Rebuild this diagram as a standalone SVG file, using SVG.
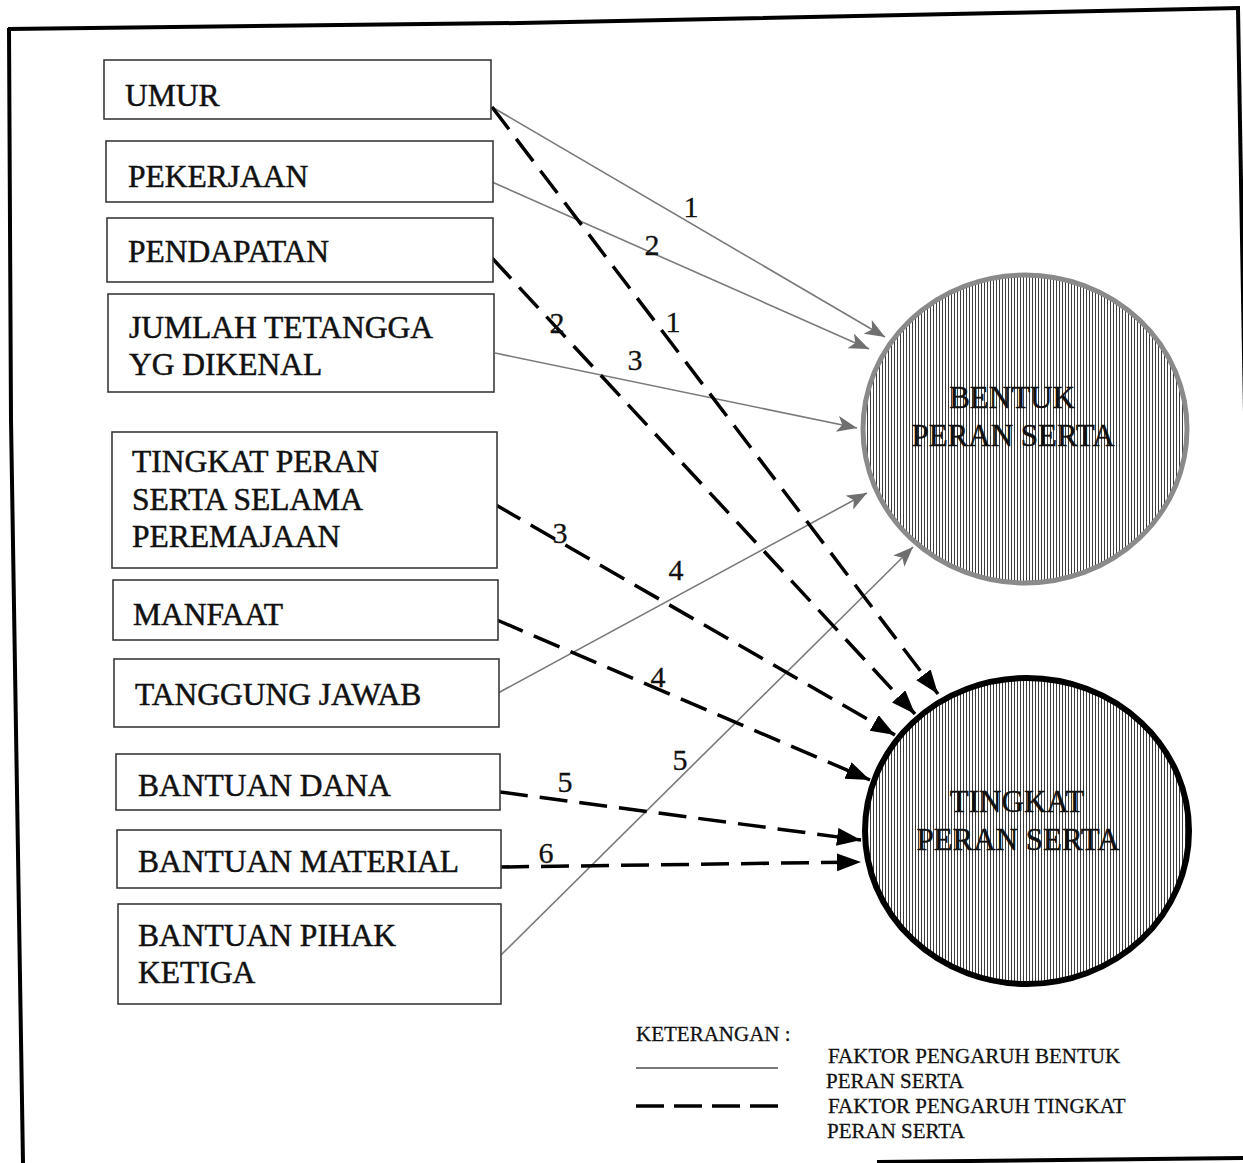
<svg xmlns="http://www.w3.org/2000/svg" width="1243" height="1163" viewBox="0 0 1243 1163">
<style>
.box{fill:#fff;stroke:#3a3a3a;stroke-width:1.6}
.bt{font-family:"Liberation Serif","Times New Roman",serif;font-size:31.5px;fill:#111;stroke:#111;stroke-width:0.5}
.ct{font-family:"Liberation Serif","Times New Roman",serif;font-size:31px;fill:#111;stroke:#111;stroke-width:0.5;text-anchor:middle}
.lbl{font-family:"Liberation Serif","Times New Roman",serif;font-size:30px;fill:#111;stroke:#111;stroke-width:0.3;text-anchor:middle}
.lg{font-family:"Liberation Serif","Times New Roman",serif;font-size:21px;fill:#111;stroke:#111;stroke-width:0.3}
.solid{fill:none;stroke:#7a7a7a;stroke-width:1.6}
.dash{fill:none;stroke:#000;stroke-width:3.5;stroke-dasharray:28 12}
.frame{fill:none;stroke:#000;stroke-width:4}
</style>
<defs>
<pattern id="hatch" width="3" height="3" patternUnits="userSpaceOnUse">
<rect width="3" height="3" fill="#fff"/>
<rect width="1" height="3" fill="#3c3c3c"/>
</pattern>
<marker id="ag" markerUnits="userSpaceOnUse" markerWidth="22" markerHeight="18" refX="20" refY="8" orient="auto">
<path d="M0,0 L20,8 L0,16 L5,8 z" fill="#6f6f6f"/>
</marker>
<marker id="ab" markerUnits="userSpaceOnUse" markerWidth="26" markerHeight="20" refX="24" refY="9" orient="auto">
<path d="M0,0 L24,9 L0,18 z" fill="#000"/>
</marker>
</defs>
<rect width="1243" height="1163" fill="#fff"/>
<g id="frame">
<polyline class="frame" points="8,29 520,23 1000,13 1240,8"/>
<polyline class="frame" points="9,28 11,420 23,1163"/>
<polyline class="frame" points="1238,8 1250,700"/>
<polyline class="frame" points="877,1162 1243,1158" stroke-width="3"/>
</g>
<g id="connectors">
<line class="solid" x1="492" y1="107" x2="885" y2="337" marker-end="url(#ag)"/>
<line class="solid" x1="492" y1="182" x2="869" y2="349" marker-end="url(#ag)"/>
<line class="solid" x1="495" y1="353" x2="857" y2="428" marker-end="url(#ag)"/>
<line class="solid" x1="498" y1="693" x2="867" y2="493" marker-end="url(#ag)"/>
<line class="solid" x1="501" y1="955" x2="913" y2="547" marker-end="url(#ag)"/>
<line class="dash" x1="492" y1="107" x2="938" y2="694" marker-end="url(#ab)"/>
<line class="dash" x1="492" y1="258" x2="915" y2="714" marker-end="url(#ab)"/>
<line class="dash" x1="496" y1="505" x2="895" y2="735" marker-end="url(#ab)"/>
<line class="dash" x1="497" y1="620" x2="870" y2="780" marker-end="url(#ab)"/>
<line class="dash" x1="500" y1="792" x2="861" y2="840" marker-end="url(#ab)"/>
<line class="dash" x1="501" y1="867" x2="861" y2="862" marker-end="url(#ab)"/>
<text class="lbl" x="691" y="217">1</text>
<text class="lbl" x="652" y="255">2</text>
<text class="lbl" x="635" y="370">3</text>
<text class="lbl" x="676" y="580">4</text>
<text class="lbl" x="680" y="770">5</text>
<text class="lbl" x="673" y="332">1</text>
<text class="lbl" x="557" y="333">2</text>
<text class="lbl" x="560" y="543">3</text>
<text class="lbl" x="658" y="687">4</text>
<text class="lbl" x="565" y="792">5</text>
<text class="lbl" x="546" y="863">6</text>
</g>
<g id="umur"><rect class="box" x="104" y="60" width="387" height="59"/><text class="bt" x="125" y="106">UMUR</text></g>
<g id="pekerjaan"><rect class="box" x="106" y="141" width="387" height="61"/><text class="bt" x="128" y="187">PEKERJAAN</text></g>
<g id="pendapatan"><rect class="box" x="107" y="218" width="386" height="64"/><text class="bt" x="128" y="262">PENDAPATAN</text></g>
<g id="jumlah"><rect class="box" x="108" y="294" width="386" height="98"/><text class="bt" x="129" y="338">JUMLAH TETANGGA</text><text class="bt" x="129" y="375">YG DIKENAL</text></g>
<g id="tingkat-peran"><rect class="box" x="112" y="432" width="385" height="136"/><text class="bt" x="132" y="472">TINGKAT PERAN</text><text class="bt" x="132" y="510">SERTA SELAMA</text><text class="bt" x="132" y="547">PEREMAJAAN</text></g>
<g id="manfaat"><rect class="box" x="113" y="580" width="385" height="60"/><text class="bt" x="133" y="625">MANFAAT</text></g>
<g id="tanggung"><rect class="box" x="114" y="659" width="385" height="68"/><text class="bt" x="135" y="705">TANGGUNG JAWAB</text></g>
<g id="dana"><rect class="box" x="116" y="754" width="384" height="56"/><text class="bt" x="138" y="796">BANTUAN DANA</text></g>
<g id="material"><rect class="box" x="117" y="830" width="384" height="58"/><text class="bt" x="138" y="872">BANTUAN MATERIAL</text></g>
<g id="pihak"><rect class="box" x="118" y="904" width="383" height="100"/><text class="bt" x="138" y="946">BANTUAN PIHAK</text><text class="bt" x="138" y="983">KETIGA</text></g>
<g id="bentuk">
<ellipse cx="1025" cy="429" rx="162" ry="154" fill="url(#hatch)" stroke="#8a8a8a" stroke-width="5"/>
<text class="ct" x="1012" y="408">BENTUK</text>
<text class="ct" x="1013" y="446">PERAN SERTA</text>
</g>
<g id="tingkat">
<ellipse cx="1027" cy="831" rx="162" ry="153" fill="url(#hatch)" stroke="#000" stroke-width="6"/>
<text class="ct" x="1017" y="812">TINGKAT</text>
<text class="ct" x="1018" y="850">PERAN SERTA</text>
</g>
<g id="legend">
<text class="lg" x="636" y="1041">KETERANGAN :</text>
<line x1="636" y1="1068" x2="778" y2="1068" stroke="#7a7a7a" stroke-width="2"/>
<line x1="636" y1="1106" x2="778" y2="1106" stroke="#000" stroke-width="3.5" stroke-dasharray="28 10"/>
<text class="lg" x="828" y="1063">FAKTOR PENGARUH BENTUK</text>
<text class="lg" x="826" y="1088">PERAN SERTA</text>
<text class="lg" x="828" y="1113">FAKTOR PENGARUH TINGKAT</text>
<text class="lg" x="827" y="1138">PERAN SERTA</text>
</g>
</svg>
